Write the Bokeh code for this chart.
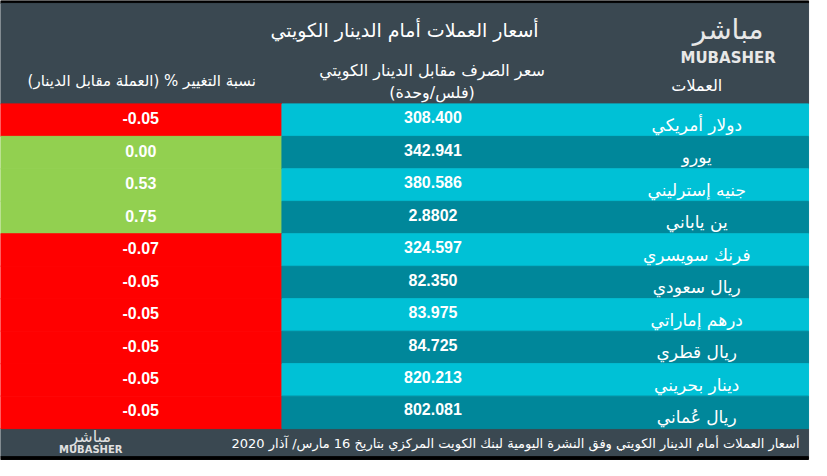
from bokeh.plotting import figure
from bokeh.models import Range1d
from bokeh.core.properties import value
from bokeh.embed import file_html
from bokeh.resources import INLINE

# ---- data ----
currencies = ["دولار أمريكي", "يورو", "جنيه إسترليني", "ين ياباني", "فرنك سويسري",
              "ريال سعودي", "درهم إماراتي", "ريال قطري", "دينار بحريني", "ريال عُماني"]
rates = ["308.400", "342.941", "380.586", "2.8802", "324.597",
         "82.350", "83.975", "84.725", "820.213", "802.081"]
changes = [-0.05, 0.00, 0.53, 0.75, -0.07, -0.05, -0.05, -0.05, -0.05, -0.05]

title = "أسعار العملات أمام الدينار الكويتي"
col_names = "العملات"
col_rate = ["سعر الصرف مقابل الدينار الكويتي", "(فلس/وحدة)"]
col_change = "نسبة التغيير % (العملة مقابل الدينار)"
footer = "أسعار  العملات أمام الدينار الكويتي وفق النشرة اليومية لبنك الكويت المركزي بتاريخ 16 مارس/ آذار 2020"

# ---- styles ----
DARK = "#3a4851"
RED = "#ff0000"
GREEN = "#92d050"
CYAN = "#00c1d6"
TEAL = "#00879a"
AR_FONT = value("DejaVu Sans")
NUM_FONT = value("Liberation Sans Narrow, Liberation Sans, Arial, sans-serif")

W, H = 827, 476
p = figure(width=811, height=460, output_backend="svg", toolbar_location=None,
           x_range=Range1d(0, W), y_range=Range1d(H, 0),
           background_fill_color="white", border_fill_color="white",
           min_border=0)
p.axis.visible = False
p.grid.visible = False
p.outline_line_color = None

RIGHT = 824
TOP_ROWS = 107
BOT_ROWS = 443
n = len(currencies)
rh = (BOT_ROWS - TOP_ROWS) / n
tops = [TOP_ROWS + i * rh for i in range(n)]
bots = [t + rh for t in tops]
mids = [t + rh / 2 for t in tops]
SPLIT = 287

# frames
p.quad(left=[0], right=[RIGHT], top=[0], bottom=[3], color="black")
p.quad(left=[0], right=[RIGHT], top=[3], bottom=[TOP_ROWS], color=DARK)
p.quad(left=[0], right=[RIGHT], top=[BOT_ROWS], bottom=[472], color=DARK)
p.quad(left=[0], right=[RIGHT], top=[472], bottom=[475], color="black")

# rows
chg_colors = [RED if c < 0 else GREEN for c in changes]
row_colors = [CYAN if i % 2 == 0 else TEAL for i in range(n)]
p.quad(left=[0] * n, right=[SPLIT] * n, top=tops, bottom=bots, color=chg_colors)
p.quad(left=[SPLIT] * n, right=[RIGHT] * n, top=tops, bottom=bots, color=row_colors)

# header texts
p.text(x=[412], y=[31], text=[title], text_color="white", text_font=AR_FONT,
       text_font_size="19px", text_align="center", text_baseline="middle")
p.text(x=[710], y=[88], text=[col_names], text_color="white", text_font=AR_FONT,
       text_font_size="16px", text_align="center", text_baseline="middle")
p.text(x=[440, 440], y=[72, 95], text=col_rate, text_color="white", text_font=AR_FONT,
       text_font_size="16px", text_align="center", text_baseline="middle")
p.text(x=[144], y=[83], text=[col_change], text_color="white", text_font=AR_FONT,
       text_font_size="15px", text_align="center", text_baseline="middle")

# logo (approximation as text)
p.text(x=[742], y=[30], text=["مباشر"], text_color="#e8e8e8", text_font=AR_FONT,
       text_font_size="28px", text_align="center", text_baseline="middle")
p.text(x=[742], y=[60], text=["MUBASHER"], text_color="#e8e8e8", text_font=value("DejaVu Sans"),
       text_font_size="15px", text_font_style="bold", text_align="center", text_baseline="middle")
p.text(x=[92], y=[451], text=["مباشر"], text_color="#e0e0e0", text_font=AR_FONT,
       text_font_size="16px", text_align="center", text_baseline="middle")
p.text(x=[92], y=[465], text=["MUBASHER"], text_color="#e0e0e0", text_font=value("DejaVu Sans"),
       text_font_size="10px", text_font_style="bold", text_align="center", text_baseline="middle")

# row texts
p.text(x=[710] * n, y=[m + 5 for m in mids], text=currencies, text_color="white",
       text_font=AR_FONT, text_font_size="17px", text_align="center", text_baseline="middle")
p.text(x=[441] * n, y=[m - 3 for m in mids], text=rates, text_color="white",
       text_font=NUM_FONT, text_font_size="16px", text_font_style="bold",
       text_align="center", text_baseline="middle")
p.text(x=[143] * n, y=[m - 2 for m in mids], text=[f"{c:.2f}" for c in changes],
       text_color="white", text_font=NUM_FONT, text_font_size="16px",
       text_font_style="bold", text_align="center", text_baseline="middle")

# footer
p.text(x=[819], y=[458], text=[footer], text_color="white", text_font=AR_FONT,
       text_font_size="13px", text_align="right", text_baseline="middle")

open("out.html", "w").write(file_html(p, INLINE))
